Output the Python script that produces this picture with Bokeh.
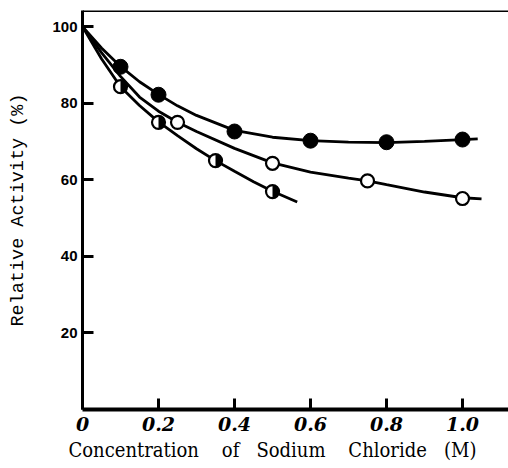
from bokeh.plotting import figure
from bokeh.models import FixedTicker, Span, Range1d, Title
from bokeh.embed import file_html
from bokeh.resources import INLINE
import math

# Measured points: NaCl concentration (M) vs relative activity (%)
filled_x = [0.1, 0.2, 0.4, 0.6, 0.8, 1.0]
filled_y = [89.5, 82.2, 72.6, 70.2, 69.8, 70.5]
open_x = [0.25, 0.5, 0.75, 1.0]
open_y = [75.0, 64.3, 59.7, 55.1]
half_x = [0.1, 0.2, 0.35, 0.5]
half_y = [84.3, 75.0, 65.0, 56.9]

# Hand-drawn trend curves through each series
filled_curve_x = [0, 0.05, 0.1, 0.15, 0.2, 0.25, 0.3, 0.4, 0.5, 0.6, 0.7, 0.8, 0.9, 1.0, 1.04]
filled_curve_y = [100, 94.4, 89.6, 85.6, 82.3, 79.3, 76.8, 72.9, 71.1, 70.2, 69.8, 69.7, 70.0, 70.5, 70.7]
open_curve_x = [0, 0.05, 0.1, 0.15, 0.2, 0.25, 0.3, 0.4, 0.5, 0.6, 0.7, 0.75, 0.8, 0.9, 1.0, 1.05]
open_curve_y = [100, 93.2, 87.0, 81.6, 77.9, 75.0, 72.6, 68.2, 64.4, 62.0, 60.4, 59.7, 58.7, 56.8, 55.3, 55.0]
half_curve_x = [0, 0.05, 0.1, 0.15, 0.2, 0.25, 0.3, 0.35, 0.4, 0.45, 0.5, 0.565]
half_curve_y = [100, 91.6, 84.3, 79.4, 75.1, 71.5, 68.1, 65.0, 62.2, 59.5, 57.0, 54.2]

# Axis ticks and labels
y_ticks = [20, 40, 60, 80, 100]
x_ticks = [0, 0.2, 0.4, 0.6, 0.8, 1.0]
x_tick_labels = ["0", "0.2", "0.4", "0.6", "0.8", "1.0"]
x_title = "Concentration\u00a0\u00a0\u00a0 of\u00a0\u00a0 Sodium\u00a0\u00a0\u00a0 Chloride\u00a0\u00a0 (M)"
y_title = "Relative Activity (%)"

X_MAX = 1.121
Y_MAX = 104.2

p = figure(width=508, height=468,
           x_range=Range1d(0, X_MAX), y_range=Range1d(0, Y_MAX),
           min_border_left=82, min_border_right=0,
           min_border_top=10, min_border_bottom=59,
           output_backend="svg", toolbar_location=None)

p.grid.visible = False
p.outline_line_color = None
p.background_fill_color = "white"
p.border_fill_color = "white"

# y axis
ya = p.yaxis[0]
ya.ticker = FixedTicker(ticks=y_ticks)
ya.axis_line_width = 3
ya.major_tick_in = 11
ya.major_tick_out = 0
ya.major_tick_line_width = 3
ya.minor_tick_line_color = None
ya.major_label_standoff = 5
ya.major_label_text_font = "Liberation Sans"
ya.major_label_text_font_style = "bold"
ya.major_label_text_font_size = "15px"
ya.major_label_text_color = "black"
ya.axis_label = y_title
ya.axis_label_text_font = "Liberation Mono"
ya.axis_label_text_font_style = "normal"
ya.axis_label_text_font_size = "18.5px"
ya.axis_label_text_color = "black"
ya.axis_label_standoff = 20

# x axis
xa = p.xaxis[0]
xa.ticker = FixedTicker(ticks=x_ticks)
xa.major_label_overrides = {v: t for v, t in zip(x_ticks, x_tick_labels)}
xa.axis_line_width = 4
xa.major_tick_in = 11
xa.major_tick_out = 0
xa.major_tick_line_width = 3
xa.minor_tick_line_color = None
xa.major_label_standoff = 7
xa.major_label_text_font = "DejaVu Serif"
xa.major_label_text_font_style = "bold italic"
xa.major_label_text_font_size = "19px"
xa.major_label_text_color = "black"

# x axis title, set slightly left of the frame centre
p.add_layout(Title(text=x_title, align="left", offset=-14, standoff=4,
                   vertical_align="bottom",
                   text_font="DejaVu Serif Condensed", text_font_style="normal",
                   text_font_size="20px", text_color="black"), "below")

# top border line
p.add_layout(Span(location=Y_MAX, dimension="width", line_color="black", line_width=3))

# trend curves
for cx, cy in [(filled_curve_x, filled_curve_y), (open_curve_x, open_curve_y), (half_curve_x, half_curve_y)]:
    p.line(cx, cy, line_color="black", line_width=2.8)

# markers
p.scatter(filled_x, filled_y, marker="circle", size=15, fill_color="black", line_color="black")
p.scatter(open_x, open_y, marker="circle", size=13, fill_color="white", line_color="black", line_width=2.2)
p.scatter(half_x, half_y, marker="circle", size=13, fill_color="white", line_color="black", line_width=2.2)
p.wedge(half_x, half_y, radius=6.5, radius_units="screen",
        start_angle=-math.pi / 2, end_angle=math.pi / 2,
        fill_color="black", line_color=None)

open("out.html", "w").write(file_html(p, INLINE))
